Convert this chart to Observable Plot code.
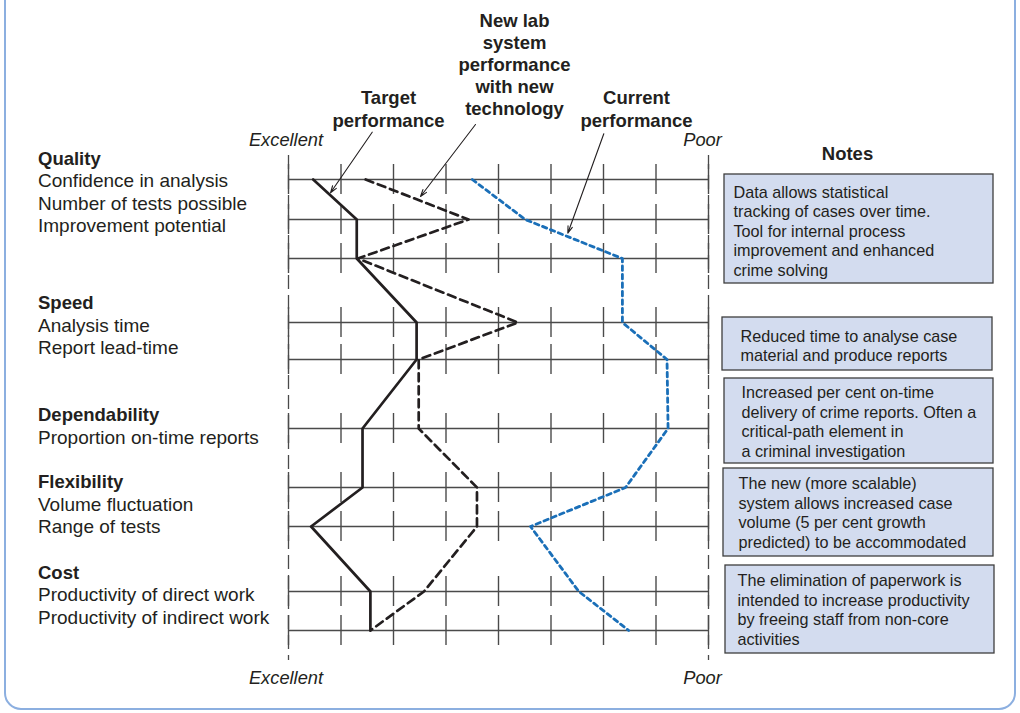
<!DOCTYPE html>
<html>
<head>
<meta charset="utf-8">
<script src="https://cdn.jsdelivr.net/npm/d3@7"></script>
<script src="https://cdn.jsdelivr.net/npm/@observablehq/plot@0.6"></script>
<style>
  html, body { margin: 0; padding: 0; background: #fff; }
  #chart { width: 1020px; height: 713px; }
</style>
</head>
<body>
<div id="chart"></div>
<script>
// ---------------- DATA ----------------
const groups = ["Quality", "Speed", "Dependability", "Flexibility", "Cost"];
const criteria = [
  "Confidence in analysis",
  "Number of tests possible",
  "Improvement potential",
  "Analysis time",
  "Report lead-time",
  "Proportion on-time reports",
  "Volume fluctuation",
  "Range of tests",
  "Productivity of direct work",
  "Productivity of indirect work"
];
const criterionGroup = [0, 0, 0, 1, 1, 2, 3, 3, 4, 4];
const scaleEnds = ["Excellent", "Poor"];           // 0 = Excellent, 8 = Poor
const scaleSteps = [0, 1, 2, 3, 4, 5, 6, 7, 8];

// Position on the Excellent (0) ... Poor (8) scale, one value per criterion
const target  = [0.47, 1.30, 1.30, 2.44, 2.44, 1.41, 1.41, 0.43, 1.56, 1.56];
const newTech = [1.47, 3.43, 1.32, 4.37, 2.48, 2.48, 3.59, 3.59, 2.58, 1.56];
const current = [3.50, 4.51, 6.36, 6.36, 7.21, 7.23, 6.42, 4.61, 5.53, 6.48];

const seriesLabels = [
  "Target\nperformance",
  "New lab\nsystem\nperformance\nwith new\ntechnology",
  "Current\nperformance"
];
const notesTitle = "Notes";
const notes = [
  "Data allows statistical\ntracking of cases over time.\nTool for internal process\nimprovement and enhanced\ncrime solving",
  "Reduced time to analyse case\nmaterial and produce reports",
  "Increased per cent on-time\ndelivery of crime reports. Often a\ncritical-path element in\na criminal investigation",
  "The new (more scalable)\nsystem allows increased case\nvolume (5 per cent growth\npredicted) to be accommodated",
  "The elimination of paperwork is\nintended to increase productivity\nby freeing staff from non-core\nactivities"
];

// ---------------- LAYOUT (pixels) ----------------
const W = 1020, H = 713;
const X0 = 288, X8 = 708;
const unit = (X8 - X0) / 8;
const ux = px => (px - X0) / unit;
const rowY = [179, 219, 258, 322, 359, 428, 487, 526, 591, 630];
const groupY = [158.3, 303, 415, 482, 572.5];
const lineStep = 22.4;
const labelX = 37.5;
const tickHalf = 15;
const edgeTop = 155, edgeBottom = 660;
const noteBoxes = [
  {x1: 724, x2: 993, y1: 174, y2: 283, tx: 733, ty: 230},
  {x1: 722, x2: 992, y1: 317, y2: 370, tx: 740, ty: 344.5},
  {x1: 724, x2: 993, y1: 378, y2: 463, tx: 741, ty: 420.8},
  {x1: 723, x2: 993, y1: 468, y2: 556, tx: 738, ty: 511.7},
  {x1: 725, x2: 994, y1: 565, y2: 653, tx: 737, ty: 608.7}
];
const seriesLabelPos = [
  {x: 388, y: 107.8, ax1: 371.7, ay1: 131.7, ax2: 330, ay2: 192.3},
  {x: 514, y: 63.3,  ax1: 475,   ay1: 124,   ax2: 420, ay2: 196},
  {x: 636, y: 107.8, ax1: 603.3, ay1: 133.3, ax2: 567.3, ay2: 232.7}
];

// ---------------- TABLES ----------------
const headerLines = [];
const itemLines = [];
groups.forEach((g, gi) => {
  headerLines.push({text: g, y: groupY[gi]});
  criteria.filter((c, i) => criterionGroup[i] === gi)
    .forEach((c, k) => itemLines.push({text: c, y: groupY[gi] + lineStep * (k + 1)}));
});
const rows = criteria.map((c, i) => ({criterion: c, y: rowY[i]}));
const ticks = rows.flatMap(r => scaleSteps.map(s => ({x: s, y1: r.y - tickHalf, y2: r.y + tickHalf})));
const mk = vals => vals.map((v, i) => ({x: v, y: rowY[i]}));
const seriesAnn = seriesLabels.map((t, i) => ({text: t, ...seriesLabelPos[i]}));
const notesTable = notes.map((t, i) => ({text: t, ...noteBoxes[i]}));

const ink = "#231f20";
const grid = "#4a4a4a";
const blue = "#1a6fb8";

const chart = Plot.plot({
  width: W,
  height: H,
  marginTop: 0, marginRight: 0, marginBottom: 0, marginLeft: 0,
  x: {domain: [0, 8], range: [X0, X8], axis: null},
  y: {domain: [0, H], range: [0, H], axis: null},
  style: {fontFamily: "'Liberation Sans', Arial, Helvetica, sans-serif", fontSize: "18.5px", color: ink, background: "#fff"},
  marks: [
    // outer rounded frame
    Plot.rect([0], {x1: ux(5), x2: ux(1015), y1: -40, y2: 709, rx: 16, fill: "none", stroke: "#8cafe0", strokeWidth: 2}),
    // notes boxes
    Plot.rect(notesTable, {x1: d => ux(d.x1), x2: d => ux(d.x2), y1: "y1", y2: "y2", fill: "#d3dcef", stroke: "#3e3e3e", strokeWidth: 1.3}),
    // dashed scale edges
    Plot.ruleX([0, 8], {y1: edgeTop, y2: edgeBottom, stroke: grid, strokeWidth: 1.3, strokeDasharray: "14,6"}),
    // row lines
    Plot.ruleY(rows, {y: "y", x1: 0, x2: 8, stroke: grid, strokeWidth: 1.4}),
    // tick marks
    Plot.ruleX(ticks, {x: "x", y1: "y1", y2: "y2", stroke: grid, strokeWidth: 1.4}),
    // profiles
    Plot.line(mk(current), {x: "x", y: "y", stroke: blue, strokeWidth: 2.8, strokeDasharray: "4.5,4"}),
    Plot.line(mk(newTech), {x: "x", y: "y", stroke: ink, strokeWidth: 2.7, strokeDasharray: "8,5"}),
    Plot.line(mk(target), {x: "x", y: "y", stroke: ink, strokeWidth: 2.7}),
    // annotation arrows
    Plot.arrow(seriesAnn, {x1: d => ux(d.ax1), y1: "ay1", x2: d => ux(d.ax2), y2: "ay2", stroke: ink, strokeWidth: 1.1, headLength: 10, headAngle: 36}),
    // series labels
    Plot.text(seriesAnn, {x: d => ux(d.x), y: "y", text: "text", fontWeight: "bold", fontSize: 18.5, lineHeight: 1.2, fill: ink}),
    // scale end labels
    Plot.text([scaleEnds[0]], {x: 0, y: 140, text: d => d, fontStyle: "italic", fontSize: 18.3, dx: -2.5, fill: ink}),
    Plot.text([scaleEnds[1]], {x: 8, y: 140, text: d => d, fontStyle: "italic", fontSize: 18.3, dx: -6, fill: ink}),
    Plot.text([scaleEnds[0]], {x: 0, y: 678, text: d => d, fontStyle: "italic", fontSize: 18.3, dx: -2.5, fill: ink}),
    Plot.text([scaleEnds[1]], {x: 8, y: 678, text: d => d, fontStyle: "italic", fontSize: 18.3, dx: -6, fill: ink}),
    // left criteria labels
    Plot.text(headerLines, {x: ux(labelX), y: "y", text: "text", textAnchor: "start", fontSize: 18.5, fontWeight: "bold", fill: ink}),
    Plot.text(itemLines, {x: ux(labelX), y: "y", text: "text", textAnchor: "start", fontSize: 19, fill: ink}),
    // notes
    Plot.text([notesTitle], {x: ux(847), y: 153.3, text: d => d, fontWeight: "bold", fontSize: 18.5, fill: ink}),
    Plot.text(notesTable, {x: d => ux(d.tx), y: "ty", text: "text", textAnchor: "start", fontSize: 16.2, lineHeight: 1.2, fill: ink})
  ]
});
document.getElementById("chart").appendChild(chart);
</script>
</body>
</html>
